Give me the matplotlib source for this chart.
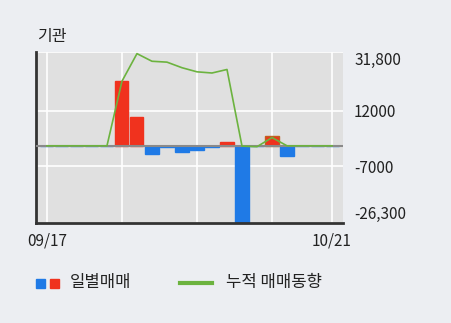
"""
기관 일별/누적 매매동향 차트
"""

import numpy as np
import matplotlib
matplotlib.use('Agg')
import matplotlib.pyplot as plt
from matplotlib.patches import Rectangle
from matplotlib.lines import Line2D

plt.rcParams['font.family'] = ['Noto Sans CJK KR', 'DejaVu Sans']

# 데이터
days = np.arange(20)
date_ticks = [0, 19]
date_labels = ['09/17', '10/21']
daily = [0, 0, 0, 0, 0, 22000, 9900, -2900, -400, -2100,
         -1500, -400, 1300, -26100, 0, 3400, -3500, 0, 0, 0]
cumulative = [0, 0, 0, 0, 0, 22000, 31400, 28800, 28500, 26600,
              25200, 24800, 26000, -100, -300, 2800, 0, 0, 0, 0]
y_ticks = [31800, 12000, -7000, -26300]
y_labels = ['31,800', '12000', '-7000', '-26,300']
grid_days = [0, 5, 10, 15, 19]

RED = '#f0321e'
BLUE = '#1f7ae6'
GREEN = '#6cb33f'
TXT = '#222222'

fig = plt.figure(figsize=(4.51, 3.23), dpi=100, facecolor='#eceef2')
ax = fig.add_axes([0.0798, 0.3096, 0.6807, 0.528])
ax.set_facecolor('#e0e0e0')

# 격자
for d in grid_days:
    ax.axvline(d, color='white', lw=1.2, zorder=0)
for v in y_ticks:
    ax.axhline(v, color='white', lw=1.2, zorder=0)

# 일별 매매 막대
colors = [RED if v > 0 else BLUE for v in daily]
edges = [RED if v > 0 else BLUE for v in daily]
edges[15] = '#c0601e'
ax.bar(days, daily, width=0.87, color=colors, edgecolor=edges, linewidth=1.0, zorder=2)

ax.axhline(0, color='#8a8a8a', lw=1.5, zorder=3)

# 누적 매매동향
ax.plot(days, cumulative, color=GREEN, lw=1.2, zorder=4)

ax.set_xlim(-0.73, 19.73)
ax.set_ylim(-26300, 31800)

ax.yaxis.tick_right()
ax.set_yticks(y_ticks)
ax.set_yticklabels(y_labels)
ax.set_xticks(date_ticks)
ax.set_xticklabels(date_labels)
ax.tick_params(axis='both', length=0, labelsize=11, colors=TXT)
ax.tick_params(axis='y', pad=8)
ax.tick_params(axis='x', pad=7)

# 위/아래 라벨은 안쪽으로
ylabs = ax.get_yticklabels()
ylabs[0].set_va('top')
ylabs[-1].set_va('bottom')
ylabs[-1].set_y(-26300)

for s in ['top', 'right']:
    ax.spines[s].set_visible(False)
ax.spines['left'].set_color('#333333')
ax.spines['left'].set_linewidth(2)
ax.spines['bottom'].set_color('#333333')
ax.spines['bottom'].set_linewidth(2)

fig.text(37 / 451, 1 - 37 / 323, '기관', fontsize=11.5, color=TXT, va='center')

# 범례
fig.patches.append(Rectangle((36 / 451, 1 - 288 / 323), 9 / 451, 9 / 323,
                             transform=fig.transFigure, color=BLUE))
fig.patches.append(Rectangle((50 / 451, 1 - 288 / 323), 9 / 451, 9 / 323,
                             transform=fig.transFigure, color=RED))
fig.text(70 / 451, 1 - 283 / 323, '일별매매', fontsize=12, color=TXT, va='center')
fig.lines.append(Line2D([180 / 451, 212 / 451], [1 - 283 / 323, 1 - 283 / 323],
                        transform=fig.transFigure, color=GREEN, lw=3))
fig.text(226 / 451, 1 - 283 / 323, '누적 매매동향', fontsize=12, color=TXT, va='center')

fig.savefig('out.png', dpi=100, facecolor=fig.get_facecolor())
